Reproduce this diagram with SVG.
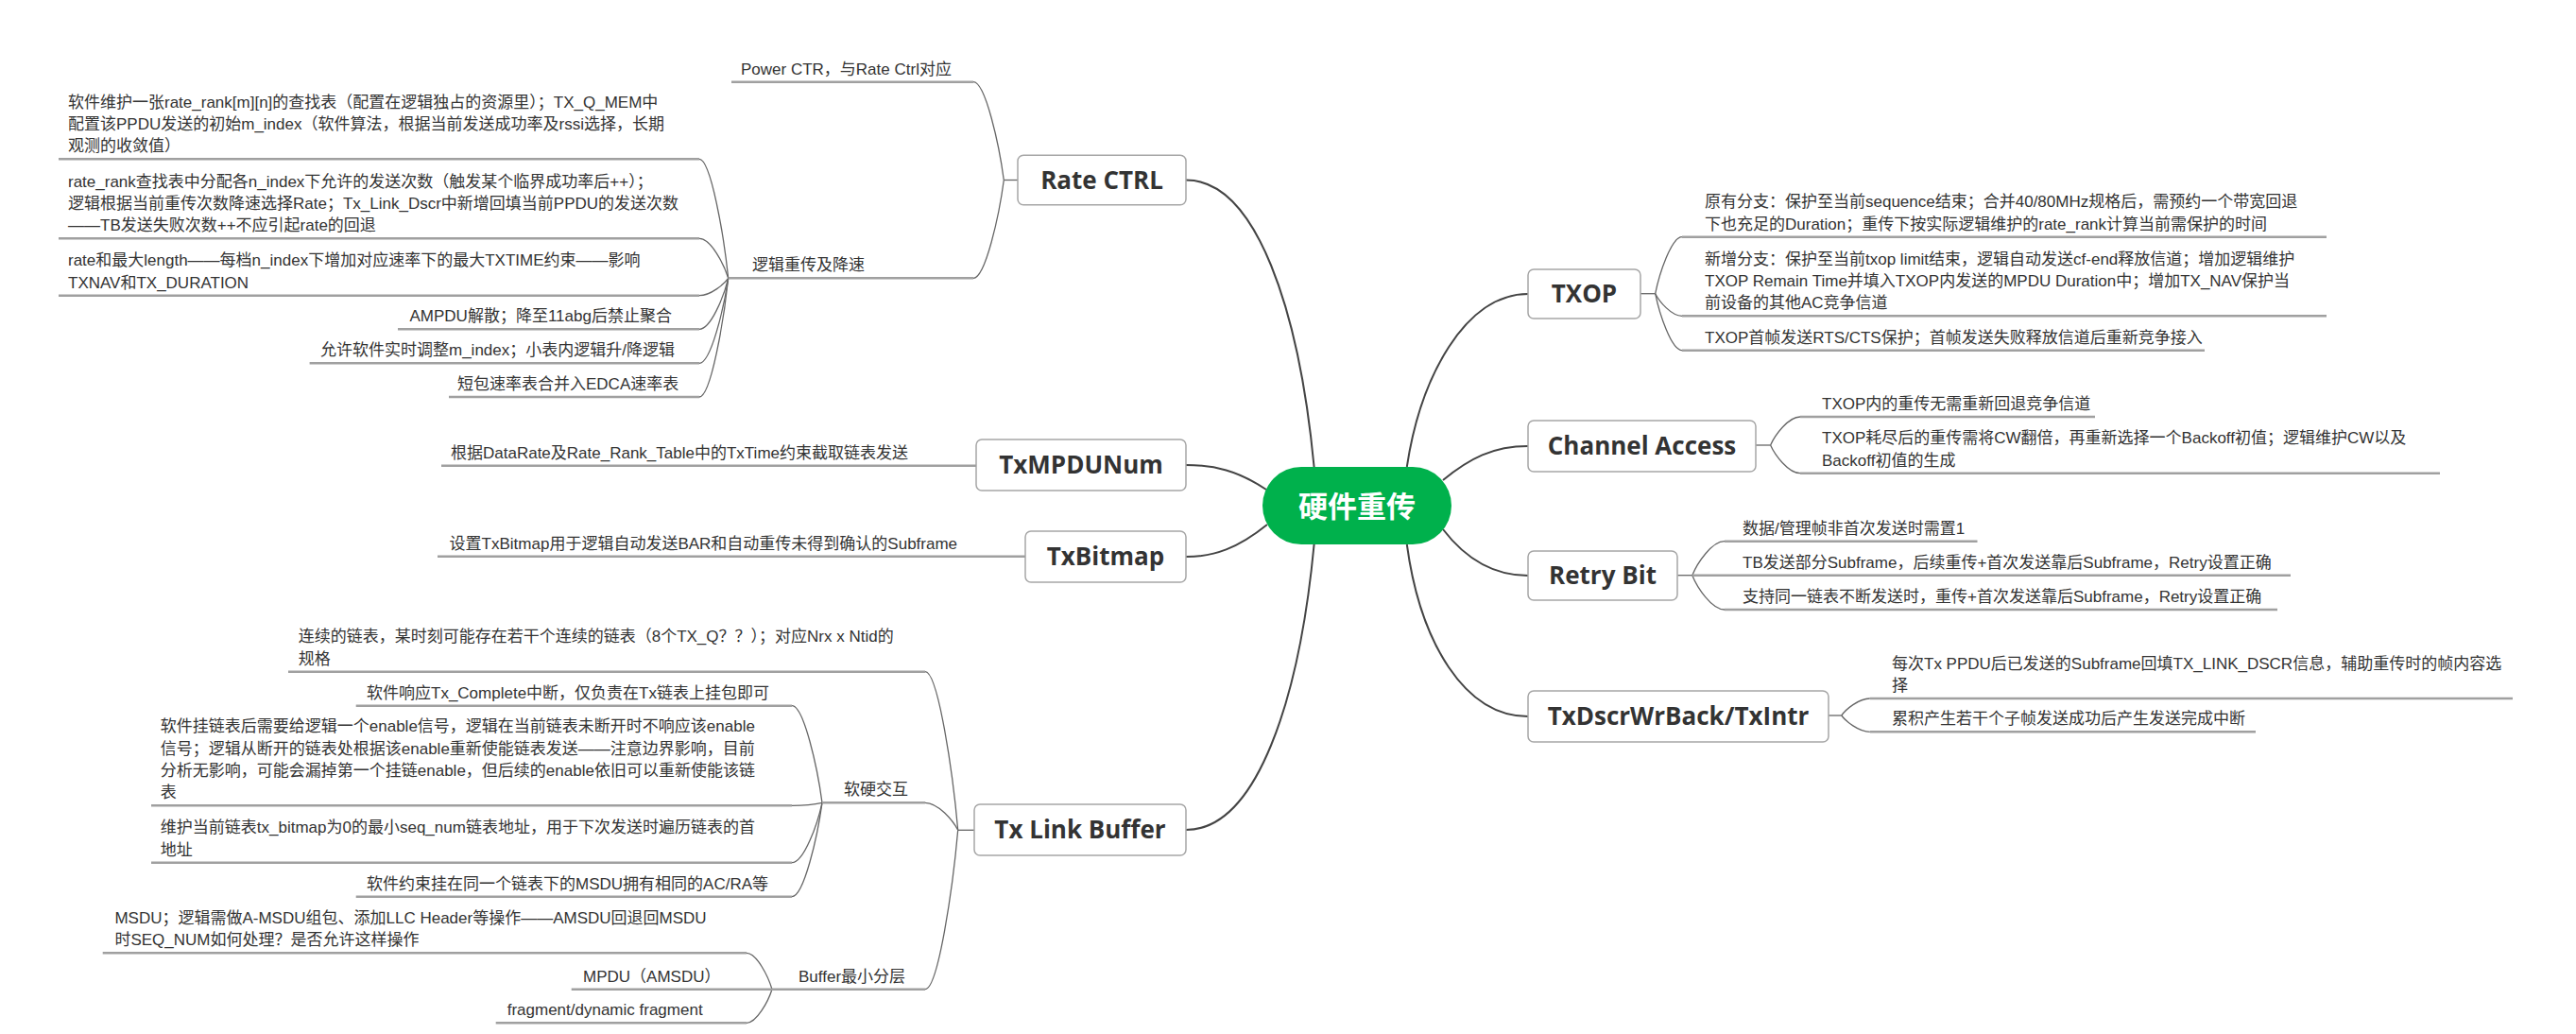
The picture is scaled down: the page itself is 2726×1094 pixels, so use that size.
<svg xmlns="http://www.w3.org/2000/svg" width="2726" height="1094" viewBox="0 0 2726 1094">
<style>
.t{font-family:"Liberation Sans","Noto Sans CJK SC",sans-serif;font-size:17px;fill:#333}
.n{font-family:"Open Sans","Noto Sans CJK SC",sans-serif;font-size:26px;font-weight:700;fill:#333;text-anchor:middle}
.box{fill:#fff;stroke:#a6a6a6;stroke-width:1.5}
.ul{stroke:#a0a0a0;stroke-width:2.5;fill:none}
.c{stroke:#666;stroke-width:1.3;fill:none}
.m{stroke:#444;stroke-width:2;fill:none}
</style>
<rect width="2726" height="1094" fill="#fff"/>
<g id="connectors">
<path class="m" d="M1390.6,494 C1375,330 1330,190.5 1255,190.5"/>
<path class="m" d="M1340,518 C1310,498 1285,492 1255,492"/>
<path class="m" d="M1341,555 C1310,580 1285,589 1255,589"/>
<path class="m" d="M1390.6,576 C1375,740 1330,878 1255,878"/>
<path class="m" d="M1488.8,494 C1503,400 1550,311 1617,311"/>
<path class="m" d="M1527,508 C1555,485 1580,472 1617,472"/>
<path class="m" d="M1527,560 C1550,590 1580,609 1617,609"/>
<path class="m" d="M1488.8,576 C1503,680 1550,758 1617,758"/>
<path class="c" d="M1062.3,190.5 H1077"/>
<path class="c" d="M1030,86.7 C1042.9,86.7 1057.5,154.2 1062.3,190.5"/>
<path class="c" d="M1030,294.3 C1042.9,294.3 1057.5,226.8 1062.3,190.5"/>
<path class="c" d="M740,168.3 C752.3,168.3 766.1,250.2 770.7,294.3"/>
<path class="c" d="M740,252.3 C752.3,252.3 766.1,279.6 770.7,294.3"/>
<path class="c" d="M740,312.7 C752.3,312.7 766.1,300.7 770.7,294.3"/>
<path class="c" d="M740,348.3 C752.3,348.3 766.1,313.2 770.7,294.3"/>
<path class="c" d="M740,384.3 C752.3,384.3 766.1,325.8 770.7,294.3"/>
<path class="c" d="M740,420 C752.3,420 766.1,338.3 770.7,294.3"/>
<path class="c" d="M1013.7,878.3 H1031"/>
<path class="c" d="M979,710.7 C992.9,710.7 1008.5,819.6 1013.7,878.3"/>
<path class="c" d="M979,849.3 C992.9,849.3 1008.5,868.2 1013.7,878.3"/>
<path class="c" d="M979,1046.7 C992.9,1046.7 1008.5,937.2 1013.7,878.3"/>
<path class="c" d="M838,746.7 C850.8,746.7 865.2,813.4 870,849.3"/>
<path class="c" d="M838,852.3 C850.8,852.3 865.2,850.4 870,849.3"/>
<path class="c" d="M838,912.7 C850.8,912.7 865.2,871.5 870,849.3"/>
<path class="c" d="M838,948.7 C850.8,948.7 865.2,884.1 870,849.3"/>
<path class="c" d="M790,1008.3 C800.8,1008.3 813,1033.3 817,1046.7"/>
<path class="c" d="M790,1082.3 C800.8,1082.3 813,1059.2 817,1046.7"/>
<path class="c" d="M1736,310.7 H1751.7"/>
<path class="c" d="M1780,250.7 C1768.7,250.7 1755.9,289.7 1751.7,310.7"/>
<path class="c" d="M1780,334.3 C1768.7,334.3 1755.9,319 1751.7,310.7"/>
<path class="c" d="M1780,370.7 C1768.7,370.7 1755.9,331.7 1751.7,310.7"/>
<path class="c" d="M1858,471 H1873.6"/>
<path class="c" d="M1905,441 C1892.4,441 1878.3,460.5 1873.6,471"/>
<path class="c" d="M1905,500.7 C1892.4,500.7 1878.3,481.4 1873.6,471"/>
<path class="c" d="M1775.4,608.7 H1790.8"/>
<path class="c" d="M1825,572.7 C1811.3,572.7 1795.9,596.1 1790.8,608.7"/>
<path class="c" d="M1825,645 C1811.3,645 1795.9,621.4 1790.8,608.7"/>
<path class="c" d="M1934.6,757 H1948.7"/>
<path class="c" d="M1978.8,739 C1966.8,739 1953.2,750.7 1948.7,757"/>
<path class="c" d="M1978.8,774.3 C1966.8,774.3 1953.2,763 1948.7,757"/>
</g>
<g id="root">
<rect x="1336" y="494" width="200" height="82" rx="41" fill="#00b14c"/>
<text x="1436" y="547" text-anchor="middle" font-family="'Noto Sans CJK SC',sans-serif" font-size="31" font-weight="700" fill="#fff">硬件重传</text>
</g>
<g id="rate-ctrl"><rect class="box" x="1077" y="164.3" width="178" height="52.4" rx="6"/><text class="n" x="1166" y="199.8">Rate CTRL</text></g>
<g id="txmpdunum"><rect class="box" x="1033" y="465" width="222" height="54" rx="6"/><text class="n" x="1144" y="501.3">TxMPDUNum</text></g>
<g id="txbitmap"><rect class="box" x="1085" y="562" width="170" height="54" rx="6"/><text class="n" x="1170" y="598.3">TxBitmap</text></g>
<g id="txlinkbuffer"><rect class="box" x="1031" y="851" width="224" height="54" rx="6"/><text class="n" x="1143" y="887.3">Tx Link Buffer</text></g>
<g id="txop"><rect class="box" x="1617" y="285" width="119" height="52" rx="6"/><text class="n" x="1676.5" y="320.3">TXOP</text></g>
<g id="channel-access"><rect class="box" x="1617" y="445" width="241" height="54" rx="6"/><text class="n" x="1737.5" y="481.3">Channel Access</text></g>
<g id="retry-bit"><rect class="box" x="1617" y="583" width="158" height="52" rx="6"/><text class="n" x="1696" y="618">Retry Bit</text></g>
<g id="txdscr"><rect class="box" x="1617" y="731" width="318" height="54" rx="6"/><text class="n" x="1776" y="767.3">TxDscrWrBack/TxIntr</text></g>

<g id="power-ctr"><line class="ul" x1="774" y1="86.7" x2="1030" y2="86.7"/><text class="t" x="784" y="78.7">Power CTR，与Rate Ctrl对应</text></g>
<g id="rate-logic"><line class="ul" x1="770.7" y1="294.3" x2="1030" y2="294.3"/><text class="t" x="796" y="286.3">逻辑重传及降速</text></g>
<g id="r1"><line class="ul" x1="62" y1="168.3" x2="740" y2="168.3"/><text class="t" x="72" y="113.7">软件维护一张rate_rank[m][n]的查找表（配置在逻辑独占的资源里）；TX_Q_MEM中</text><text class="t" x="72" y="137">配置该PPDU发送的初始m_index（软件算法，根据当前发送成功率及rssi选择，长期</text><text class="t" x="72" y="160.3">观测的收敛值）</text></g>
<g id="r2"><line class="ul" x1="62" y1="252.3" x2="740" y2="252.3"/><text class="t" x="72" y="197.7">rate_rank查找表中分配各n_index下允许的发送次数（触发某个临界成功率后++）；</text><text class="t" x="72" y="221">逻辑根据当前重传次数降速选择Rate；Tx_Link_Dscr中新增回填当前PPDU的发送次数</text><text class="t" x="72" y="244.3">——TB发送失败次数++不应引起rate的回退</text></g>
<g id="r3"><line class="ul" x1="62" y1="312.7" x2="740" y2="312.7"/><text class="t" x="72" y="281.4">rate和最大length——每档n_index下增加对应速率下的最大TXTIME约束——影响</text><text class="t" x="72" y="304.7">TXNAV和TX_DURATION</text></g>
<g id="r4"><line class="ul" x1="421" y1="348.3" x2="740" y2="348.3"/><text class="t" x="433.5" y="340.3">AMPDU解散；降至11abg后禁止聚合</text></g>
<g id="r5"><line class="ul" x1="327.6" y1="384.3" x2="740" y2="384.3"/><text class="t" x="339" y="376.3">允许软件实时调整m_index；小表内逻辑升/降逻辑</text></g>
<g id="r6"><line class="ul" x1="475" y1="420" x2="740" y2="420"/><text class="t" x="484" y="412">短包速率表合并入EDCA速率表</text></g>

<g id="mpdu-child"><line class="ul" x1="467" y1="492.7" x2="1033" y2="492.7"/><text class="t" x="477" y="484.7">根据DataRate及Rate_Rank_Table中的TxTime约束截取链表发送</text></g>
<g id="bitmap-child"><line class="ul" x1="463" y1="588.7" x2="1085" y2="588.7"/><text class="t" x="475.6" y="580.7">设置TxBitmap用于逻辑自动发送BAR和自动重传未得到确认的Subframe</text></g>

<g id="l1"><line class="ul" x1="305" y1="710.7" x2="979" y2="710.7"/><text class="t" x="315.7" y="679.4">连续的链表，某时刻可能存在若干个连续的链表（8个TX_Q？？）；对应Nrx x Ntid的</text><text class="t" x="315.7" y="702.7">规格</text></g>
<g id="soft-hard"><line class="ul" x1="870" y1="849.3" x2="979" y2="849.3"/><text class="t" x="893" y="841.3">软硬交互</text></g>
<g id="s1"><line class="ul" x1="376.7" y1="746.7" x2="838" y2="746.7"/><text class="t" x="388" y="738.7">软件响应Tx_Complete中断，仅负责在Tx链表上挂包即可</text></g>
<g id="s2"><line class="ul" x1="160" y1="852.3" x2="838" y2="852.3"/><text class="t" x="169.8" y="774.4">软件挂链表后需要给逻辑一个enable信号，逻辑在当前链表未断开时不响应该enable</text><text class="t" x="169.8" y="797.7">信号；逻辑从断开的链表处根据该enable重新使能链表发送——注意边界影响，目前</text><text class="t" x="169.8" y="821">分析无影响，可能会漏掉第一个挂链enable，但后续的enable依旧可以重新使能该链</text><text class="t" x="169.8" y="844.3">表</text></g>
<g id="s3"><line class="ul" x1="160" y1="912.7" x2="838" y2="912.7"/><text class="t" x="169.8" y="881.4">维护当前链表tx_bitmap为0的最小seq_num链表地址，用于下次发送时遍历链表的首</text><text class="t" x="169.8" y="904.7">地址</text></g>
<g id="s4"><line class="ul" x1="376.7" y1="948.7" x2="838" y2="948.7"/><text class="t" x="388" y="940.7">软件约束挂在同一个链表下的MSDU拥有相同的AC/RA等</text></g>
<g id="buffer-layer"><line class="ul" x1="817" y1="1046.7" x2="979" y2="1046.7"/><text class="t" x="845" y="1038.7">Buffer最小分层</text></g>
<g id="b1"><line class="ul" x1="108.7" y1="1008.3" x2="790" y2="1008.3"/><text class="t" x="121.4" y="977">MSDU；逻辑需做A-MSDU组包、添加LLC Header等操作——AMSDU回退回MSDU</text><text class="t" x="121.4" y="1000.3">时SEQ_NUM如何处理？是否允许这样操作</text></g>
<g id="b2"><line class="ul" x1="604.7" y1="1046.7" x2="817" y2="1046.7"/><text class="t" x="617" y="1038.7">MPDU（AMSDU）</text></g>
<g id="b3"><line class="ul" x1="524.7" y1="1082.3" x2="790" y2="1082.3"/><text class="t" x="536.7" y="1074.3">fragment/dynamic fragment</text></g>

<g id="t1"><line class="ul" x1="1780" y1="250.7" x2="2462" y2="250.7"/><text class="t" x="1804" y="219.4">原有分支：保护至当前sequence结束；合并40/80MHz规格后，需预约一个带宽回退</text><text class="t" x="1804" y="242.7">下也充足的Duration；重传下按实际逻辑维护的rate_rank计算当前需保护的时间</text></g>
<g id="t2"><line class="ul" x1="1780" y1="334.3" x2="2462" y2="334.3"/><text class="t" x="1804" y="279.7">新增分支：保护至当前txop limit结束，逻辑自动发送cf-end释放信道；增加逻辑维护</text><text class="t" x="1804" y="303">TXOP Remain Time并填入TXOP内发送的MPDU Duration中；增加TX_NAV保护当</text><text class="t" x="1804" y="326.3">前设备的其他AC竞争信道</text></g>
<g id="t3"><line class="ul" x1="1780" y1="370.7" x2="2333" y2="370.7"/><text class="t" x="1804" y="362.7">TXOP首帧发送RTS/CTS保护；首帧发送失败释放信道后重新竞争接入</text></g>
<g id="c1"><line class="ul" x1="1905" y1="441" x2="2217" y2="441"/><text class="t" x="1928" y="433">TXOP内的重传无需重新回退竞争信道</text></g>
<g id="c2"><line class="ul" x1="1905" y1="500.7" x2="2582" y2="500.7"/><text class="t" x="1928" y="469.4">TXOP耗尽后的重传需将CW翻倍，再重新选择一个Backoff初值；逻辑维护CW以及</text><text class="t" x="1928" y="492.7">Backoff初值的生成</text></g>
<g id="rb1"><line class="ul" x1="1825" y1="572.7" x2="2092.5" y2="572.7"/><text class="t" x="1844" y="564.7">数据/管理帧非首次发送时需置1</text></g>
<g id="rb2"><line class="ul" x1="1790.8" y1="608.7" x2="2424" y2="608.7"/><text class="t" x="1844" y="600.7">TB发送部分Subframe，后续重传+首次发送靠后Subframe，Retry设置正确</text></g>
<g id="rb3"><line class="ul" x1="1825" y1="645" x2="2410" y2="645"/><text class="t" x="1844" y="637">支持同一链表不断发送时，重传+首次发送靠后Subframe，Retry设置正确</text></g>
<g id="d1"><line class="ul" x1="1978.8" y1="739" x2="2659" y2="739"/><text class="t" x="2002" y="707.7">每次Tx PPDU后已发送的Subframe回填TX_LINK_DSCR信息，辅助重传时的帧内容选</text><text class="t" x="2002" y="731">择</text></g>
<g id="d2"><line class="ul" x1="1978.8" y1="774.3" x2="2387" y2="774.3"/><text class="t" x="2002" y="766.3">累积产生若干个子帧发送成功后产生发送完成中断</text></g>
</svg>
